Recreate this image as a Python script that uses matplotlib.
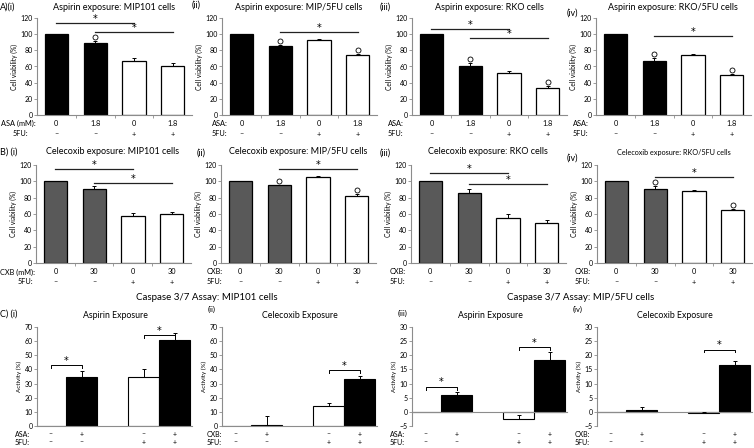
import matplotlib
matplotlib.use("Agg")
import matplotlib.pyplot as plt
import numpy as np

plt.rcParams['font.family'] = ['Lato', 'DejaVu Sans']

W, H = 754, 448

# ---- row A: aspirin viability
a_titles = ["Aspirin exposure: MIP101 cells", "Aspirin exposure: MIP/5FU cells",
            "Aspirin exposure: RKO cells", "Aspirin exposure: RKO/5FU cells"]
a_vals = [[100, 89, 67, 61], [100, 85, 93, 74], [100, 61, 52, 34], [100, 67, 74, 49]]
a_errs = [[0.5, 2, 4, 3], [0.5, 2, 1, 1], [0.5, 3, 2, 2], [0.5, 3, 2, 2]]
a_circles = [[1], [1, 3], [1, 3], [1, 3]]
a_sig = [[(0, 2, 114), (1, 3, 103)], [(1, 3, 103)], [(0, 2, 106), (1, 3, 95)], [(1, 3, 98)]]
a_dose = ["0", "1.8", "0", "1.8"]
a_rowlab = ["ASA (mM):", "ASA:", "ASA:", "ASA:"]

# ---- row B: celecoxib viability
b_titles = ["Celecoxib exposure: MIP101 cells", "Celecoxib exposure: MIP/5FU cells",
            "Celecoxib exposure: RKO cells", "Celecoxib exposure: RKO/5FU cells"]
b_vals = [[100, 91, 57, 60], [100, 95, 105, 82], [100, 86, 55, 49], [100, 91, 88, 65]]
b_errs = [[0.5, 3, 4, 3], [0.5, 1, 2, 3], [0.5, 5, 5, 4], [0.5, 3, 1, 1]]
b_circles = [[], [1, 3], [], [1, 3]]
b_sig = [[(0, 2, 115), (1, 3, 98)], [(1, 3, 115)], [(0, 2, 110), (1, 3, 97)], [(1, 3, 105)]]
b_dose = ["0", "30", "0", "30"]
b_rowlab = ["CXB (mM):", "CXB:", "CXB:", "CXB:"]

fu_marks = ["\u2013", "\u2013", "+", "+"]

# ---- row C: caspase 3/7
c_titles = ["Aspirin Exposure", "Celecoxib Exposure", "Aspirin Exposure", "Celecoxib Exposure"]
c_vals = [[0, 35, 35, 61], [0, 1, 14, 33], [0, 6, -2.5, 18.5], [0, 0.5, -0.3, 16.5]]
c_errs = [[0, 4, 5, 5], [0, 6, 2, 2.5], [0, 1, 1.3, 2.5], [0, 1.2, 0.3, 1.5]]
c_brackets = [[(0, 1, 43, 2), (2, 3, 64, 2)], [(2, 3, 39.5, 2)],
              [(0, 1, 8.8, 0.9), (2, 3, 22.9, 0.9)], [(2, 3, 22, 0.9)]]
c_drug = ["\u2013", "+", "\u2013", "+"]
c_fu = ["\u2013", "\u2013", "+", "+"]
c_rowlab = ["ASA:", "CXB:", "ASA:", "CXB:"]
c_ylims = [(0, 70, 10), (0, 70, 10), (-5, 30, 5), (-5, 30, 5)]

fig = plt.figure(figsize=(W / 100, H / 100), dpi=100)


def rect(left, top, bottom, width=155):
    return [left / W, 1 - bottom / H, width / W, (bottom - top) / H]


def ftext(x, y, s, **kw):
    kw.setdefault('va', 'center')
    fig.text(x / W, 1 - y / H, s, **kw)


def style_axes(ax, lo, hi, step):
    ax.set_ylim(lo, hi)
    ax.set_yticks(np.arange(lo, hi + step / 2, step))
    for s in ['top', 'right']:
        ax.spines[s].set_visible(False)
    for s in ['left', 'bottom']:
        ax.spines[s].set_color('#8c8c8c')
        ax.spines[s].set_linewidth(0.8)
    ax.tick_params(axis='y', direction='out', length=2, width=0.6, color='#8c8c8c',
                   labelsize=5, pad=1)
    ax.patch.set_alpha(0)


# rows A and B
xa = np.arange(4) + 0.5
rows_ab = [
    (a_titles, a_vals, a_errs, a_circles, a_sig, a_dose, a_rowlab, 'black',
     [37, 222, 412, 596], 18, 115, 7, 123, 134,
     ["A)(i)", "(ii)", "(iii)", "(iv)"], [(0, 7), (192, 5), (380, 7), (567, 13)],
     [(1, 13), (212, 212), (388, 388), (573, 573)]),
    (b_titles, b_vals, b_errs, b_circles, b_sig, b_dose, b_rowlab, '#595959',
     [36, 221, 411, 597], 165, 263, 152, 272, 282,
     ["B) (i)", "(ii)", "(iii)", "(iv)"], [(0, 152), (197, 153), (380, 153), (567, 158)],
     [(0, 18), (207, 207), (390, 390), (575, 575)]),
]

for (titles, vals, errs, circles, sigs, dose, rowlab, fill, lefts, top, bottom, ty,
     r1, r2, plabels, ppos, lpos) in rows_ab:
    for k in range(4):
        ax = fig.add_axes(rect(lefts[k], top, bottom))
        style_axes(ax, 0, 120, 20)
        ax.set_xlim(0, 4)
        ax.set_xticks([1, 2, 3], minor=True)
        ax.set_xticks([])
        ax.tick_params(axis='x', which='minor', direction='out', length=2, width=0.6,
                       color='#8c8c8c')
        v = np.array(vals[k])
        e = np.array(errs[k])
        ax.bar(xa, v, 0.6, color=[fill, fill, 'white', 'white'], edgecolor='black',
               linewidth=0.9, zorder=2)
        ax.errorbar(xa, v, yerr=[np.zeros(4), e], fmt='none', ecolor='black',
                    elinewidth=0.7, capsize=1.6, capthick=0.7, zorder=3)
        for i in circles[k]:
            ax.plot(xa[i], v[i] + e[i] + 5, marker='o', ms=3.6, mfc='white',
                    mec='black', mew=0.6, zorder=4, clip_on=False)
        for i, j, y in sigs[k]:
            ax.plot([xa[i], xa[j]], [y, y], color='#222222', lw=0.9, clip_on=False)
            ax.text((xa[i] + xa[j]) / 2, y - 1, '*', ha='center', va='bottom',
                    fontsize=7, family='DejaVu Sans')
        ax.set_ylabel("Cell viability (%)", fontsize=4.8, labelpad=2)
        tsize = 5.2 if (fill != 'black' and k == 3) else 6.5
        ftext(lefts[k] + 77, ty, titles[k], ha='center', fontsize=tsize)
        ftext(ppos[k][0], ppos[k][1], plabels[k], ha='left', fontsize=6.5)
        ftext(lpos[k][0], r1, rowlab[k], ha='left', fontsize=5.3)
        ftext(lpos[k][1], r2, "5FU:", ha='left', fontsize=5.3)
        for i in range(4):
            px = lefts[k] + (xa[i] / 4) * 155
            ftext(px, r1, dose[i], ha='center', fontsize=5.3)
            ftext(px, r2, fu_marks[i], ha='center', fontsize=5.3)

# row C
xc = np.array([0.35, 1.15, 2.75, 3.55])
c_lefts = [37, 222, 412, 597]
c_plabels = ["C) (i)", "(ii)", "(iii)", "(iv)"]
c_ppos = [(0, 314), (208, 309), (398, 313), (573, 309)]
c_lpos = [15, 207, 390, 575]
for k in range(4):
    ax = fig.add_axes(rect(c_lefts[k], 327, 426))
    lo, hi, st = c_ylims[k]
    style_axes(ax, lo, hi, st)
    ax.set_xlim(0, 4)
    ax.set_xticks([])
    if lo < 0:
        ax.spines['bottom'].set_position(('data', 0))
    v = np.array(c_vals[k])
    e = np.array(c_errs[k])
    ax.bar(xc, v, 0.8, color=['white', 'black', 'white', 'black'], edgecolor='black',
           linewidth=0.8, zorder=2)
    m = e > 0
    ax.errorbar(xc[m], v[m], yerr=[np.zeros(m.sum()), e[m]], fmt='none', ecolor='black',
                elinewidth=0.7, capsize=1.6, capthick=0.7, zorder=3)
    for i, j, y, d in c_brackets[k]:
        ax.plot([xc[i], xc[i], xc[j], xc[j]], [y - d, y, y, y - d], color='black',
                lw=0.7, clip_on=False)
        ax.text((xc[i] + xc[j]) / 2, y - (hi - lo) * 0.005, '*', ha='center',
                va='bottom', fontsize=7, family='DejaVu Sans')
    ax.set_ylabel("Activity (%)", fontsize=4.5, labelpad=2)
    ftext(c_lefts[k] + 78, 315, c_titles[k], ha='center', fontsize=6.3)
    ftext(c_ppos[k][0], c_ppos[k][1], c_plabels[k], ha='left',
          fontsize=6.5 if k == 0 else 5.5)
    ftext(c_lpos[k], 434, c_rowlab[k], ha='left', fontsize=5)
    ftext(c_lpos[k], 442, "5FU:", ha='left', fontsize=5)
    for i in range(4):
        px = c_lefts[k] + (xc[i] / 4) * 155
        ftext(px, 434, c_drug[i], ha='center', fontsize=5)
        ftext(px, 442, c_fu[i], ha='center', fontsize=5)

ftext(207, 298, "Caspase 3/7 Assay: MIP101 cells", ha='center', fontsize=7)
ftext(581, 298, "Caspase 3/7 Assay: MIP/5FU cells", ha='center', fontsize=7)

fig.savefig("out.png", dpi=100)
